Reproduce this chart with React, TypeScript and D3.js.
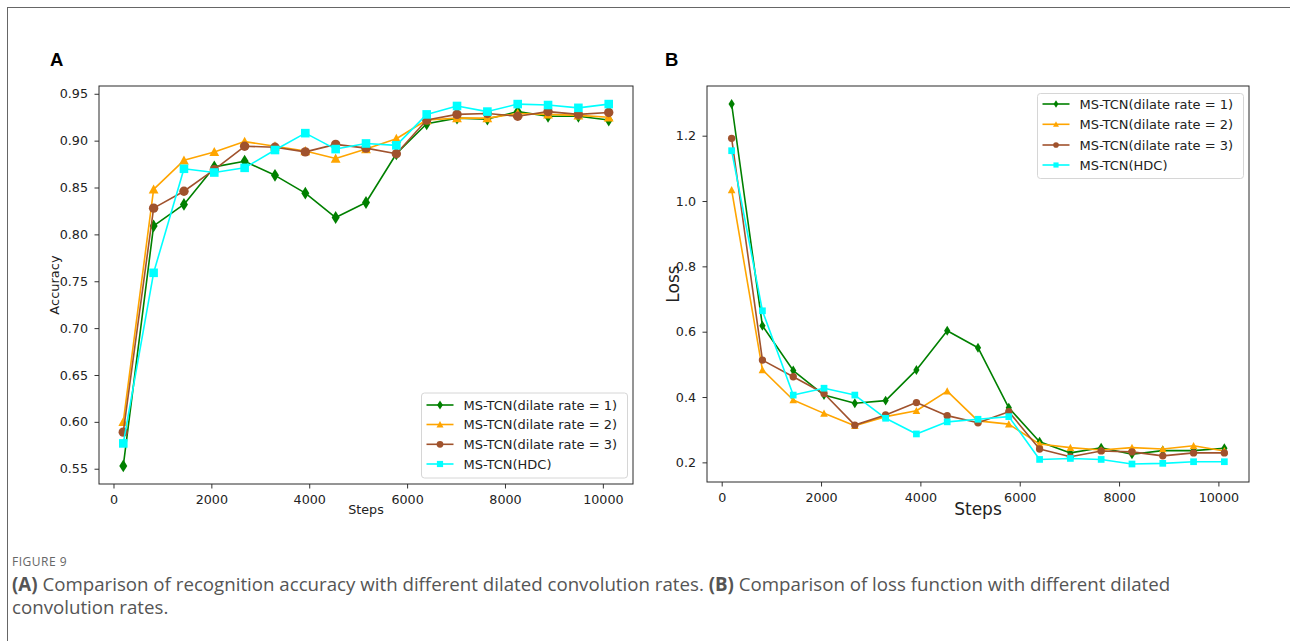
import * as React from "react";
import * as d3 from "d3";

// training steps at which both metrics were logged
const steps = [200, 820, 1440, 2060, 2680, 3300, 3920, 4540, 5160, 5780, 6400, 7020, 7640, 8260, 8880, 9500, 10120];

const seriesNames = [
  "MS-TCN(dilate rate = 1)",
  "MS-TCN(dilate rate = 2)",
  "MS-TCN(dilate rate = 3)",
  "MS-TCN(HDC)"
];
const seriesColors = ["#008000", "#ffa500", "#a0522d", "#00ffff"];
const seriesMarkers = ["diamond", "triangle", "circle", "square"];

const accRate1 = [0.553, 0.809, 0.832, 0.872, 0.878, 0.863, 0.844, 0.818, 0.834, 0.886, 0.918, 0.924, 0.923, 0.931, 0.926, 0.926, 0.922];
const accRate2 = [0.600, 0.848, 0.879, 0.888, 0.899, 0.894, 0.889, 0.881, 0.891, 0.902, 0.922, 0.924, 0.924, 0.929, 0.928, 0.927, 0.925];
const accRate3 = [0.589, 0.828, 0.846, 0.869, 0.894, 0.893, 0.888, 0.896, 0.892, 0.886, 0.922, 0.928, 0.929, 0.926, 0.931, 0.928, 0.930];
const accHdc = [0.577, 0.759, 0.870, 0.866, 0.871, 0.890, 0.908, 0.891, 0.897, 0.895, 0.928, 0.937, 0.931, 0.939, 0.938, 0.935, 0.939];

const lossRate1 = [1.297, 0.618, 0.481, 0.406, 0.381, 0.389, 0.483, 0.603, 0.551, 0.367, 0.263, 0.229, 0.245, 0.225, 0.236, 0.236, 0.243];
const lossRate2 = [1.034, 0.483, 0.391, 0.350, 0.312, 0.340, 0.358, 0.418, 0.327, 0.317, 0.256, 0.245, 0.238, 0.245, 0.241, 0.251, 0.235];
const lossRate3 = [1.192, 0.513, 0.462, 0.411, 0.314, 0.345, 0.383, 0.343, 0.321, 0.355, 0.241, 0.217, 0.235, 0.232, 0.220, 0.229, 0.229];
const lossHdc = [1.154, 0.664, 0.406, 0.427, 0.406, 0.335, 0.287, 0.324, 0.332, 0.340, 0.209, 0.212, 0.209, 0.195, 0.197, 0.202, 0.202];

const stepTicks = [0, 2000, 4000, 6000, 8000, 10000];
const accTicks = [0.55, 0.6, 0.65, 0.7, 0.75, 0.8, 0.85, 0.9, 0.95];
const lossTicks = [0.2, 0.4, 0.6, 0.8, 1.0, 1.2];

const FONT = "'DejaVu Sans', sans-serif";

const markerPath = (kind: string, s: number) => {
  if (kind === "diamond") return `M0,${-6.4 * s}L${4 * s},0L0,${6.4 * s}L${-4 * s},0Z`;
  if (kind === "triangle") return `M0,${-4.9 * s}L${4.9 * s},${4.2 * s}L${-4.9 * s},${4.2 * s}Z`;
  if (kind === "square") {
    const h = 4.3 * s;
    return `M${-h},${-h}h${2 * h}v${2 * h}h${-2 * h}Z`;
  }
  const r = 4.7 * s;
  return `M${r},0A${r},${r} 0 1,1 ${-r},0A${r},${r} 0 1,1 ${r},0Z`;
};

// matplotlib style 5% margins
const padded = (vals: number[]) => {
  const [lo, hi] = d3.extent(vals) as [number, number];
  const m = (hi - lo) * 0.05;
  return [lo - m, hi + m];
};

type PanelOpts = {
  box: { left: number; right: number; top: number; bottom: number };
  series: number[][];
  yTicks: number[];
  yFormat: string;
  yLabel: string;
  yLabelSize: number;
  yLabelX: number;
  xLabelSize: number;
  xLabelY: number;
  markerScale: number;
  legend: { x: number; y: number; rowY: number[]; markerScale: number };
};

const drawPanel = (svg: any, o: PanelOpts) => {
  const { box } = o;
  const x = d3.scaleLinear().domain(padded(steps)).range([box.left, box.right]);
  const y = d3.scaleLinear().domain(padded(o.series.flat())).range([box.bottom, box.top]);

  const g = svg.append("g");

  const xAxis = g
    .append("g")
    .attr("transform", `translate(0,${box.bottom})`)
    .call(d3.axisBottom(x).tickValues(stepTicks).tickFormat(d3.format("d")).tickSize(4.5).tickPadding(6.5));
  const yAxis = g
    .append("g")
    .attr("transform", `translate(${box.left},0)`)
    .call(d3.axisLeft(y).tickValues(o.yTicks).tickFormat(d3.format(o.yFormat)).tickSize(4.5).tickPadding(6.5));
  [xAxis, yAxis].forEach(a => {
    a.select(".domain").remove();
    a.selectAll("line").attr("stroke", "#333").attr("stroke-width", 1);
    a.selectAll("text").attr("fill", "#222").style("font-family", FONT).style("font-size", "12.7px");
  });

  const line = d3
    .line<number>()
    .x((d, i) => x(steps[i]))
    .y(d => y(d));

  o.series.forEach((vals, si) => {
    g.append("path")
      .attr("d", line(vals))
      .attr("fill", "none")
      .attr("stroke", seriesColors[si])
      .attr("stroke-width", 1.6)
      .attr("stroke-linejoin", "round");
    g.selectAll(null)
      .data(vals)
      .enter()
      .append("path")
      .attr("d", markerPath(seriesMarkers[si], o.markerScale))
      .attr("transform", (d, i) => `translate(${x(steps[i])},${y(d)})`)
      .attr("fill", seriesColors[si]);
  });

  // spines
  g.append("rect")
    .attr("x", box.left)
    .attr("y", box.top)
    .attr("width", box.right - box.left)
    .attr("height", box.bottom - box.top)
    .attr("fill", "none")
    .attr("stroke", "#2a2a2a")
    .attr("stroke-width", 1);

  g.append("text")
    .attr("x", (box.left + box.right) / 2)
    .attr("y", o.xLabelY)
    .attr("text-anchor", "middle")
    .attr("fill", "#222")
    .style("font-family", FONT)
    .style("font-size", o.xLabelSize + "px")
    .text("Steps");
  g.append("text")
    .attr("transform", `translate(${o.yLabelX},${(box.top + box.bottom) / 2}) rotate(-90)`)
    .attr("text-anchor", "middle")
    .attr("fill", "#222")
    .style("font-family", FONT)
    .style("font-size", o.yLabelSize + "px")
    .text(o.yLabel);

  // legend
  const lg = g.append("g").attr("transform", `translate(${o.legend.x},${o.legend.y})`);
  lg.append("rect")
    .attr("width", 206)
    .attr("height", 85)
    .attr("rx", 3)
    .attr("fill", "#fff")
    .attr("fill-opacity", 0.85)
    .attr("stroke", "#d6d6d6");
  seriesNames.forEach((name, si) => {
    const ry = o.legend.rowY[si];
    lg.append("line")
      .attr("x1", 5)
      .attr("x2", 32)
      .attr("y1", ry)
      .attr("y2", ry)
      .attr("stroke", seriesColors[si])
      .attr("stroke-width", 1.6);
    lg.append("path")
      .attr("d", markerPath(seriesMarkers[si], o.legend.markerScale))
      .attr("transform", `translate(18.5,${ry})`)
      .attr("fill", seriesColors[si]);
    lg.append("text")
      .attr("x", 42)
      .attr("y", ry)
      .attr("dy", "0.36em")
      .attr("fill", "#222")
      .style("font-family", FONT)
      .style("font-size", "13px")
      .text(name);
  });
};

const App = () => {
  const ref = React.useRef<SVGSVGElement>(null);

  React.useEffect(() => {
    const svg = d3.select(ref.current);
    svg.selectAll("*").remove();

    svg.append("rect").attr("width", 1290).attr("height", 641).attr("fill", "#fff");
    svg.append("rect")
      .attr("x", 7.5)
      .attr("y", 7.5)
      .attr("width", 1320)
      .attr("height", 700)
      .attr("fill", "none")
      .attr("stroke", "#666")
      .attr("stroke-width", 1);

    drawPanel(svg, {
      box: { left: 99, right: 633, top: 86, bottom: 484 },
      series: [accRate1, accRate2, accRate3, accHdc],
      yTicks: accTicks,
      yFormat: ".2f",
      yLabel: "Accuracy",
      yLabelSize: 13,
      yLabelX: 59,
      xLabelSize: 12.7,
      xLabelY: 514,
      markerScale: 1,
      legend: { x: 421.5, y: 393, rowY: [12, 31.5, 51.3, 71], markerScale: 0.72 }
    });

    drawPanel(svg, {
      box: { left: 707, right: 1249, top: 86, bottom: 482 },
      series: [lossRate1, lossRate2, lossRate3, lossHdc],
      yTicks: lossTicks,
      yFormat: ".1f",
      yLabel: "Loss",
      yLabelSize: 17,
      yLabelX: 679,
      xLabelSize: 17,
      xLabelY: 515,
      markerScale: 0.78,
      legend: { x: 1037.5, y: 93.5, rowY: [10.5, 30.8, 51.5, 71.5], markerScale: 0.6 }
    });

    const panelLabel = (t: string, px: number) =>
      svg.append("text")
        .attr("x", px)
        .attr("y", 66)
        .attr("fill", "#000")
        .style("font-family", "'Liberation Sans', Arial, sans-serif")
        .style("font-weight", "bold")
        .style("font-size", "18.5px")
        .text(t);
    panelLabel("A", 50);
    panelLabel("B", 665);

    const cap = "'Open Sans', 'Noto Sans', sans-serif";
    svg.append("text")
      .attr("x", 12)
      .attr("y", 566)
      .attr("fill", "#666")
      .style("font-family", cap)
      .style("font-size", "12px")
      .style("letter-spacing", "0.5px")
      .text("FIGURE 9");
    const line1 = svg.append("text")
      .attr("x", 12)
      .attr("y", 591)
      .attr("fill", "#555")
      .style("font-family", cap)
      .style("font-size", "18.7px");
    line1.append("tspan").style("font-weight", "bold").text("(A)");
    line1.append("tspan").text(" Comparison of recognition accuracy with different dilated convolution rates. ");
    line1.append("tspan").style("font-weight", "bold").text("(B)");
    line1.append("tspan").text(" Comparison of loss function with different dilated");
    svg.append("text")
      .attr("x", 12)
      .attr("y", 614)
      .attr("fill", "#555")
      .style("font-family", cap)
      .style("font-size", "18.7px")
      .text("convolution rates.");
  }, []);

  return (
    <svg
      ref={ref}
      width={1290}
      height={641}
      style={{ position: "absolute", left: 0, top: 0, display: "block" }}
    />
  );
};

export default App;
